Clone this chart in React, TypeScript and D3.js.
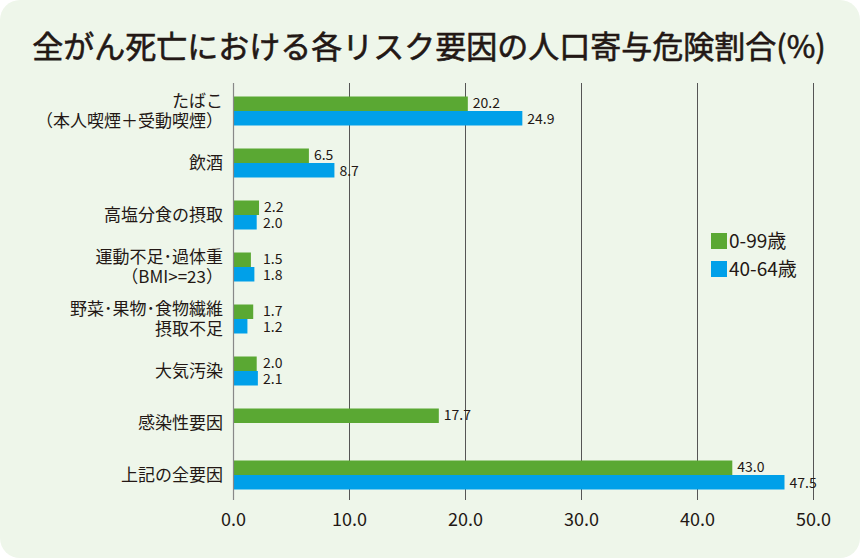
import React from "react";
import * as d3 from "d3";

const categories = [
  ["たばこ", "（本人喫煙＋受動喫煙）"],
  ["飲酒"],
  ["高塩分食の摂取"],
  ["運動不足･過体重", "（BMI>=23）"],
  ["野菜･果物･食物繊維", "摂取不足"],
  ["大気汚染"],
  ["感染性要因"],
  ["上記の全要因"],
];
const seriesNames = ["0-99歳", "40-64歳"];
const values0to99 = [20.2, 6.5, 2.2, 1.5, 1.7, 2.0, 17.7, 43.0];
const values40to64: (number | null)[] = [24.9, 8.7, 2.0, 1.8, 1.2, 2.1, null, 47.5];
const xTicks = [0, 10, 20, 30, 40, 50];
const title = "全がん死亡における各リスク要因の人口寄与危険割合(%)";

const W = 860;
const H = 558;
const colors = ["#5aa833", "#00a0e9"];
const font = "'Noto Sans CJK JP', 'Noto Sans', sans-serif";
const textColor = "#231815";

export default function App() {
  const x = d3.scaleLinear().domain([0, 50]).range([233.5, 813.5]);
  const y = d3.scaleBand<number>().domain(d3.range(categories.length)).range([85, 501]).paddingInner(0).paddingOuter(0);
  const barH = 14.5;
  const series = [values0to99, values40to64];

  return (
    <svg width={W} height={H} style={{ position: "absolute", left: 0, top: 0 }} fontFamily={font}>
      <rect x={0} y={0} width={W} height={H} fill="#ffffff" />
      <rect x={0} y={0} width={W} height={H} rx={20} ry={20} fill="#eef6ea" />
      <text x={429} y={58} textAnchor="middle" fontSize={31} fontWeight={400} fill={textColor} stroke={textColor} strokeWidth={0.6}>
        {title}
      </text>
      {xTicks.slice(1).map((t) => (
        <line key={t} x1={x(t)} x2={x(t)} y1={83} y2={500} stroke="#555" strokeWidth={1} />
      ))}
      {categories.map((lines, i) => {
        const cy = y(i)! + y.bandwidth() / 2;
        const lh = 19.5;
        const start = cy - ((lines.length - 1) * lh) / 2 + 6;
        return (
          <g key={i}>
            {lines.map((l, j) => (
              <text key={j} x={223} y={start + j * lh} textAnchor="end" fontSize={17} fill={textColor}>
                {l}
              </text>
            ))}
          </g>
        );
      })}
      {series.map((vals, s) =>
        vals.map((v, i) => {
          if (v == null) return null;
          const cy = y(i)! + y.bandwidth() / 2;
          const by = cy - barH + s * barH;
          const end = x(v);
          const lx = Math.max(end + 5, 263);
          return (
            <g key={`${s}-${i}`}>
              <rect x={x(0)} y={by} width={end - x(0)} height={barH} fill={colors[s]} />
              <text x={lx} y={by + barH / 2 + 5 + (s === 0 ? -0.5 : 0.5)} fontSize={14} fill={textColor}>
                {v.toFixed(1)}
              </text>
            </g>
          );
        })
      )}
      <line x1={x(0)} x2={x(0)} y1={83} y2={500} stroke="#888" strokeWidth={1.2} />
      {xTicks.map((t) => (
        <text key={t} x={x(t)} y={526} textAnchor="middle" fontSize={18} fill={textColor}>
          {t.toFixed(1)}
        </text>
      ))}
      {seriesNames.map((n, s) => (
        <g key={n}>
          <rect x={711} y={233 + s * 28} width={16} height={16} fill={colors[s]} />
          <text x={729} y={248 + s * 28} fontSize={19} fill={textColor}>
            {n}
          </text>
        </g>
      ))}
    </svg>
  );
}
